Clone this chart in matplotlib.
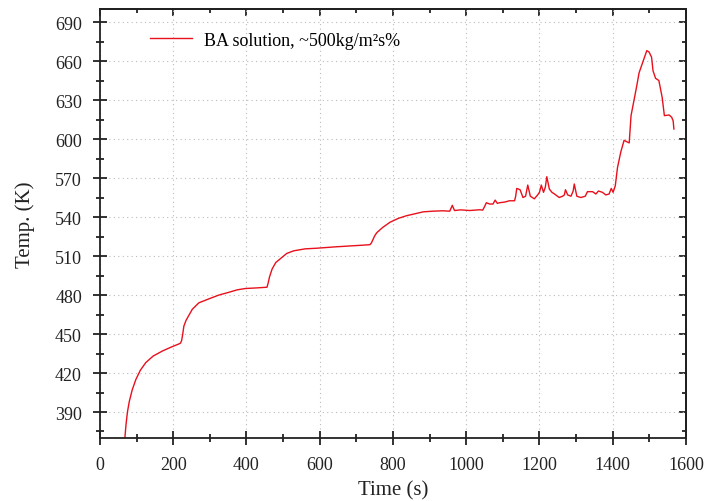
import matplotlib
matplotlib.use('Agg')
import matplotlib.pyplot as plt
from matplotlib.ticker import MultipleLocator

plt.rcParams['font.family'] = ['Liberation Serif', 'DejaVu Serif']

# time (s) and temperature (K)
time_s = [68, 71, 75, 80, 88, 98, 110, 125, 145, 171, 195, 215, 220,
          223, 226, 229, 235, 240, 252, 270, 297, 325, 351, 375, 397, 430, 456,
          459, 463, 470, 480, 493, 510, 529, 560, 592, 640, 683, 715, 737,
          741, 745, 750, 756, 772, 792, 815, 837, 860, 883, 910, 935, 955, 962, 968,
          985, 1010, 1037, 1045, 1050, 1055, 1064, 1073, 1079, 1085, 1091,
          1105, 1118, 1132, 1135, 1138, 1147, 1155, 1162, 1168, 1175, 1186,
          1195, 1200, 1205, 1211, 1216, 1220, 1227, 1234, 1241, 1254, 1263,
          1268, 1271, 1277, 1286, 1292, 1295, 1302, 1313, 1325, 1331, 1345,
          1354, 1361, 1372, 1381, 1390, 1396, 1401, 1407, 1413, 1422, 1431,
          1438, 1445, 1450, 1458, 1465, 1472, 1483, 1493, 1499, 1506, 1510,
          1517, 1526, 1535, 1541, 1554, 1561, 1565, 1567]
temp_k = [370, 380, 390, 398, 407, 415, 422, 428, 433, 437, 440, 442.3, 443,
          445, 450, 456, 460.5, 463, 469, 474, 477, 480, 482, 484, 485, 485.5, 486,
          489, 494, 500, 505, 508, 512, 514, 515.5, 516, 517, 517.7, 518.3, 518.7,
          520, 522.5, 525.5, 528, 532, 536, 539, 541, 542.5, 544, 544.5, 544.8, 544.5, 549, 545,
          545.5, 545, 545.6, 545.3, 548, 551, 550, 550, 553, 550.5, 551,
          551.5, 552.5, 552.5, 556, 562, 561, 555, 556, 564.6, 556, 554,
          557, 559, 564.6, 559, 563, 571, 561.5, 559, 557.7, 555, 556,
          557, 561, 557, 556, 560, 565.4, 556, 555, 556, 559.5, 559.5,
          557.7, 560, 559, 557, 557.7, 562, 559, 564, 578, 590, 599,
          598, 597, 618, 629.5, 640, 651, 660, 668, 667, 663, 652.5,
          646.7, 645, 632, 618, 618.5, 616.7, 614, 607.7]

ink = '#222222'

fig = plt.figure(figsize=(7.04, 5.02), dpi=100)
ax = fig.add_axes([0.142, 0.1255, 0.8324, 0.8545])

ax.plot(time_s, temp_k, color='#e8101c', lw=1.0, label='BA solution, ~500kg/m²s%')

ax.set_xlim(0, 1600)
ax.set_ylim(370, 700)
ax.xaxis.set_major_locator(MultipleLocator(200))
ax.xaxis.set_minor_locator(MultipleLocator(100))
ax.set_yticks(range(390, 691, 30))
ax.yaxis.set_minor_locator(MultipleLocator(15))

ax.grid(True, which='major', linestyle=(0, (1, 3)), color='#bbbbbb', lw=0.8)

ax.tick_params(which='both', direction='inout', labelsize=13, width=1.3,
               colors=ink, labelcolor=ink, pad=8)
ax.tick_params(which='major', length=10)
ax.tick_params(which='minor', length=6)
for side in ax.spines.values():
    side.set_linewidth(1.3)
    side.set_color(ink)

# top and right ticks point inward only
top = ax.secondary_xaxis('top')
top.xaxis.set_major_locator(MultipleLocator(200))
top.xaxis.set_minor_locator(MultipleLocator(100))
top.tick_params(which='both', direction='in', labeltop=False, width=1.3, colors=ink)
top.tick_params(which='major', length=5)
top.tick_params(which='minor', length=3)
right = ax.secondary_yaxis('right')
right.set_yticks(range(390, 691, 30))
right.yaxis.set_minor_locator(MultipleLocator(15))
right.tick_params(which='both', direction='in', labelright=False, width=1.3, colors=ink)
right.tick_params(which='major', length=5)
right.tick_params(which='minor', length=3)
top.spines['top'].set_linewidth(1.3)
right.spines['right'].set_linewidth(1.3)

ax.set_xlabel('Time (s)', fontsize=15, color=ink, labelpad=5)
ax.set_ylabel('Temp. (K)', fontsize=15, color=ink, labelpad=14)

ax.legend(loc='upper left', frameon=False, fontsize=13, handlelength=2.3,
          handletextpad=0.7, bbox_to_anchor=(0.058, 0.985))

plt.savefig('out.png', dpi=100)
